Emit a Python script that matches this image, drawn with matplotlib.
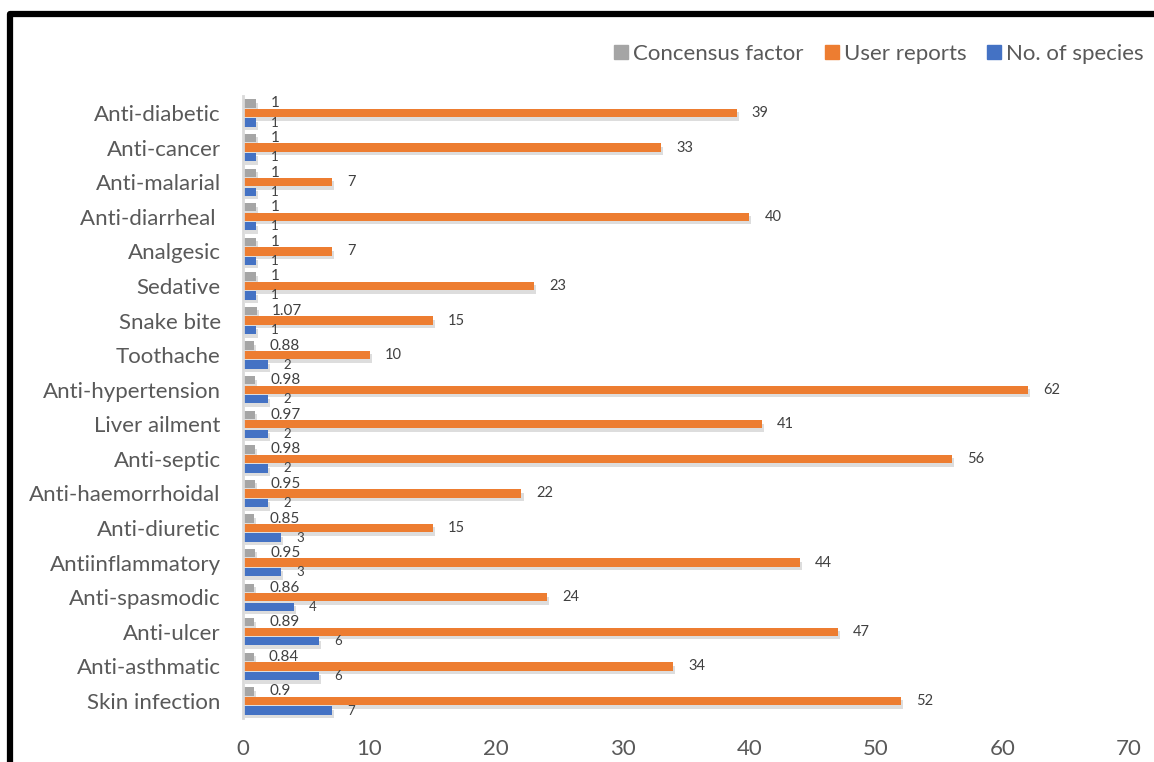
import numpy as np
import matplotlib as mplt
mplt.use("Agg")
import matplotlib.pyplot as plt
import matplotlib.patheffects as pe
from matplotlib.patches import Rectangle
from matplotlib.lines import Line2D

categories = [
    "Anti-diabetic", "Anti-cancer", "Anti-malarial", "Anti-diarrheal ",
    "Analgesic", "Sedative", "Snake bite", "Toothache", "Anti-hypertension",
    "Liver ailment", "Anti-septic", "Anti-haemorrhoidal", "Anti-diuretic",
    "Antiinflammatory", "Anti-spasmodic", "Anti-ulcer", "Anti-asthmatic",
    "Skin infection",
]
consensus_factor = [1, 1, 1, 1, 1, 1, 1.07, 0.88, 0.98, 0.97, 0.98, 0.95,
                    0.85, 0.95, 0.86, 0.89, 0.84, 0.9]
user_reports = [39, 33, 7, 40, 7, 23, 15, 10, 62, 41, 56, 22, 15, 44, 24,
                47, 34, 52]
no_species = [1, 1, 1, 1, 1, 1, 1, 2, 2, 2, 2, 2, 3, 3, 4, 6, 6, 7]
xticks = [0, 10, 20, 30, 40, 50, 60, 70]

c_gray = "#A5A5A5"
c_orange = "#ED7D31"
c_blue = "#4472C4"
txt = "#595959"
lbl = "#404040"

plt.rcParams["font.family"] = ["Lato", "DejaVu Sans"]

fig = plt.figure(figsize=(11.54, 7.62), dpi=100)
ax = fig.add_axes([243 / 1154, 1 - 718.3 / 762, (1129 - 243) / 1154, (718.3 - 95.7) / 762])

y = np.arange(len(categories))
off = 0.275
h = 0.24
shadow = [pe.SimplePatchShadow(offset=(1.5, -2.5), shadow_rgbFace="#8f8f8f", alpha=0.3), pe.Normal()]

series = [
    (consensus_factor, -off, c_gray, "Concensus factor", 11),
    (user_reports, 0.0, c_orange, "User reports", 10.5),
    (no_species, off, c_blue, "No. of species", 9.5),
]
for vals, dy, col, name, fs in series:
    bars = ax.barh(y + dy, vals, height=h, color=col, label=name)
    for b in bars:
        b.set_path_effects(shadow)
    for yi, v in zip(y + dy, vals):
        ax.annotate(f"{v:g}", xy=(v, yi), xytext=(11, 0), textcoords="offset points",
                    ha="left", va="center", fontsize=fs, color=lbl)

ax.set_ylim(len(categories) - 0.5, -0.5)
ax.set_xlim(0, 70)
ax.set_yticks(y)
ax.set_yticklabels(categories, fontsize=16, color=txt)
ax.set_xticks(xticks)
ax.set_xticklabels([str(t) for t in xticks], fontsize=16, color=txt)
ax.tick_params(axis="y", length=0, pad=16)
ax.tick_params(axis="x", length=0, pad=15)
for s in ["top", "right", "bottom"]:
    ax.spines[s].set_visible(False)
ax.spines["left"].set_color("#D9D9D9")
ax.spines["left"].set_linewidth(2)

handles = [Line2D([], [], marker="s", linestyle="none", markersize=10, color=c)
           for c in [c_gray, c_orange, c_blue]]
fig.legend(handles, ["Concensus factor", "User reports", "No. of species"],
           loc="upper right", bbox_to_anchor=(1144 / 1154, 1 - 44 / 762), ncol=3,
           frameon=False, fontsize=16, labelcolor=txt, handletextpad=0.15,
           columnspacing=0.85, handlelength=0.8, borderaxespad=0, borderpad=0)

# black frame (only left and top edges visible in the crop)
fig.patches.append(Rectangle((10 / 1154, -0.2), 1.2, 1.2 - 14.5 / 762,
                             transform=fig.transFigure, fill=False,
                             edgecolor="black", linewidth=4.5, joinstyle="round"))

fig.savefig("out.png", dpi=100)
